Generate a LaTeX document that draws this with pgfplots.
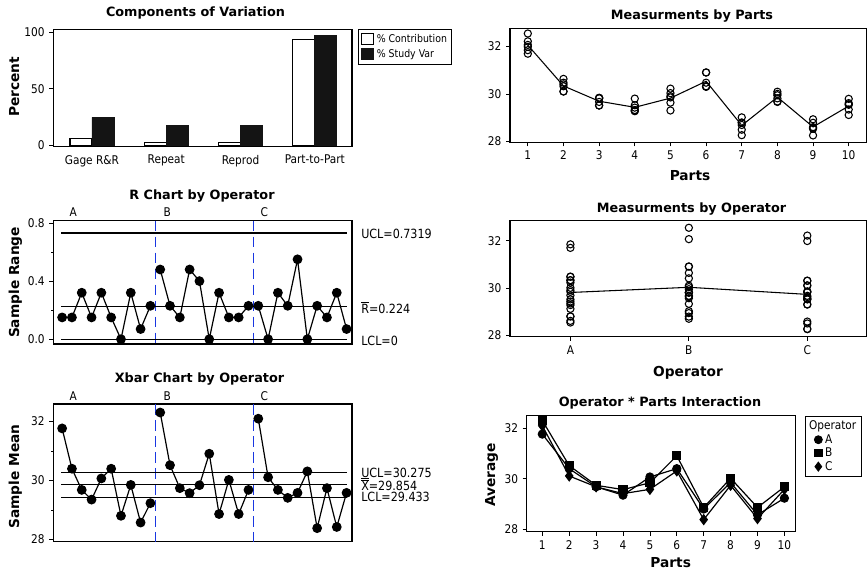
\documentclass[border=0pt]{standalone}
\usepackage{pgfplots}
\pgfplotsset{compat=1.18}
\usepackage{pgfplotstable}
\usepackage{fontspec}
\setmainfont{DejaVu Sans}[FakeStretch=0.88]
\newfontfamily\tfont{DejaVu Sans}
\definecolor{mblue}{RGB}{25,55,225}
\newcommand{\Rbar}{\vbox{\hrule height 0.5pt\kern 0.9pt\hbox{R}}}
\newcommand{\Xbb}{\vbox{\hrule height 0.5pt\kern 0.9pt\hrule height 0.5pt\kern 0.9pt\hbox{X}}}
\newcommand{\ttl}{\tfont\bfseries\fontsize{9.6}{11}\selectfont}
\newcommand{\lbl}{\tfont\bfseries\fontsize{10.3}{12}\selectfont}

\pgfplotstableread{
x xbar r
1 31.77 0.15
2 30.40 0.15
3 29.68 0.32
4 29.35 0.15
5 30.07 0.32
6 30.40 0.15
7 28.80 0.00
8 29.85 0.32
9 28.57 0.07
10 29.23 0.23
10.5 nan nan
11 32.31 0.48
12 30.52 0.23
13 29.74 0.15
14 29.57 0.48
15 29.84 0.40
16 30.91 0.00
17 28.86 0.32
18 30.02 0.15
19 28.86 0.15
20 29.68 0.23
20.5 nan nan
21 32.10 0.23
22 30.11 0.00
23 29.68 0.32
24 29.41 0.23
25 29.58 0.55
26 30.31 0.00
27 28.38 0.23
28 29.74 0.15
29 28.42 0.32
30 29.58 0.07
}\subgroups

\pgfplotstableread{
part A B C
1 31.77 32.31 32.10
2 30.40 30.52 30.11
3 29.68 29.74 29.68
4 29.35 29.57 29.41
5 30.07 29.84 29.58
6 30.40 30.91 30.31
7 28.80 28.86 28.38
8 29.85 30.02 29.74
9 28.57 28.86 28.42
10 29.23 29.68 29.58
}\interact

\pgfplotstableread{
part op val
1 0 31.70
1 0 31.85
2 0 30.33
2 0 30.48
3 0 29.52
3 0 29.84
4 0 29.28
4 0 29.43
5 0 29.91
5 0 30.23
6 0 30.33
6 0 30.48
7 0 28.80
7 0 28.80
8 0 29.69
8 0 30.01
9 0 28.54
9 0 28.61
10 0 29.12
10 0 29.35
1 1 32.07
1 1 32.55
2 1 30.41
2 1 30.64
3 1 29.67
3 1 29.82
4 1 29.33
4 1 29.81
5 1 29.64
5 1 30.04
6 1 30.91
6 1 30.91
7 1 28.70
7 1 29.02
8 1 29.95
8 1 30.10
9 1 28.79
9 1 28.94
10 1 29.57
10 1 29.80
1 2 31.99
1 2 32.22
2 2 30.11
2 2 30.11
3 2 29.52
3 2 29.84
4 2 29.30
4 2 29.53
5 2 29.31
5 2 29.86
6 2 30.31
6 2 30.31
7 2 28.27
7 2 28.50
8 2 29.67
8 2 29.82
9 2 28.26
9 2 28.58
10 2 29.55
10 2 29.62
}\meas

\pgfplotsset{
  mstyle/.style={
    scale only axis, anchor=south west, clip=false,
    axis line style={line width=1pt, black},
    tick style={black, line width=0.6pt},
    tick align=outside, tick pos=left,
    major tick length=3pt, minor tick length=1.6pt,
    tick label style={font=\fontsize{9}{10}\selectfont},
    /pgf/number format/assume math mode=true,
  },
  sqlegend/.style={legend image code/.code={\draw[##1, line width=0.6pt] (0pt,-3.6pt) rectangle (9.5pt,4.2pt);}},
  vdash/.style={color=mblue, draw=mblue, line width=1.4pt, dash pattern=on 8pt off 4pt},
  cline/.style={draw=black, line width=0.9pt},
}

\begin{document}
\begin{tikzpicture}[x=0.75pt,y=0.75pt]
\useasboundingbox (0,0) rectangle (868,569);

% ---------- Components of Variation
\begin{axis}[mstyle, at={(39.975pt,316.875pt)}, width=224pt, height=87.9pt,
  ybar=0pt, bar width=0.296,
  xmin=-0.52, xmax=3.5, ymin=-1.06, ymax=102.65,
  xtick={0,1,2,3}, xticklabels={Gage R\&R, Repeat, Reprod, Part-to-Part},
  ytick={0,50,100}, xtick style={draw=none},
  legend style={at={(1.021,1)}, anchor=north west, draw=black, line width=0.6pt,
    font=\fontsize{8}{9.5}\selectfont, inner sep=1.5pt, row sep=-0.5pt},
  legend cell align=left]
\addplot[fill=white, draw=black, line width=0.9pt, sqlegend]
  coordinates {(0,6.1) (1,2.2) (2,2.2) (3,93.9)};
\addplot[fill=black!92, draw=black!92, line width=0.5pt, sqlegend]
  coordinates {(0,24.8) (1,17.6) (2,17.6) (3,96.9)};
\legend{\% Contribution, \% Study Var}
\end{axis}

% ---------- R chart
\begin{axis}[mstyle, at={(39.975pt,168.75pt)}, width=224pt, height=92.6pt,
  xmin=0.1, xmax=30.55, ymin=-0.033, ymax=0.817, xtick=\empty,
  ytick={0,0.4,0.8}, yticklabels={0.0,0.4,0.8}, minor ytick={0.2,0.6},
  unbounded coords=jump]
\addplot[vdash] coordinates {(10.518,0.817) (10.518,-0.033)};
\addplot[vdash] coordinates {(20.509,0.817) (20.509,-0.033)};
\addplot[cline] coordinates {(0.9,0.7319) (30,0.7319)};
\addplot[cline] coordinates {(0.9,0.224) (30,0.224)};
\addplot[cline] coordinates {(0.9,0) (30,0)};
\addplot[black, line width=0.9pt, mark=*, mark size=3.2pt] table[x=x,y=r]{\subgroups};
\end{axis}

% ---------- Xbar chart
\begin{axis}[mstyle, at={(39.975pt,20.475pt)}, width=224pt, height=103.3pt,
  xmin=0.1, xmax=30.55, ymin=27.92, ymax=32.6, xtick=\empty,
  ytick={28,30,32}, minor ytick={29,31},
  unbounded coords=jump]
\addplot[vdash] coordinates {(10.518,32.6) (10.518,27.92)};
\addplot[vdash] coordinates {(20.509,32.6) (20.509,27.92)};
\addplot[cline] coordinates {(0.9,30.275) (30,30.275)};
\addplot[cline] coordinates {(0.9,29.854) (30,29.854)};
\addplot[cline] coordinates {(0.9,29.433) (30,29.433)};
\addplot[black, line width=0.9pt, mark=*, mark size=3.2pt] table[x=x,y=xbar]{\subgroups};
\end{axis}

% ---------- Measurements by Parts
\begin{axis}[mstyle, at={(382.5pt,320.025pt)}, width=267.4pt, height=85.5pt,
  xmin=0.5, xmax=10.5, ymin=27.97, ymax=32.77,
  xtick={1,2,3,4,5,6,7,8,9,10}, ytick={28,30,32}]
\addplot[only marks, mark=o, mark size=2.7pt, black, line width=0.8pt] table[x=part,y=val]{\meas};
\addplot[black, line width=0.8pt] coordinates {(1,32.06) (2,30.343) (3,29.70) (4,29.443) (5,29.83) (6,30.54) (7,28.68) (8,29.87) (9,28.617) (10,29.497)};
\end{axis}

% ---------- Measurements by Operator
\begin{axis}[mstyle, at={(382.5pt,174.225pt)}, width=267.4pt, height=87pt,
  xmin=-0.51, xmax=2.5, ymin=27.94, ymax=32.85,
  xtick={0,1,2}, xticklabels={A,B,C}, ytick={28,30,32}]
\addplot[only marks, mark=o, mark size=2.7pt, black, line width=0.8pt] table[x=op,y=val]{\meas};
\addplot[black, line width=0.8pt] coordinates {(0,29.812) (1,30.031) (2,29.731)};
\end{axis}

% ---------- Interaction
\begin{axis}[mstyle, at={(395.025pt,27.975pt)}, width=201.75pt, height=87pt,
  xmin=0.42, xmax=10.42, ymin=27.9, ymax=32.5,
  xtick={1,2,3,4,5,6,7,8,9,10}, ytick={28,30,32},
  legend style={at={(1.033,1)}, anchor=north west, draw=black, line width=0.6pt,
    font=\fontsize{9}{10}\selectfont, inner sep=1.5pt, row sep=-2pt},
  legend cell align=left]
\addplot[black, line width=0.9pt, mark=*, mark size=3pt, forget plot] table[x=part,y=A]{\interact};
\addplot[black, line width=0.9pt, mark=square*, mark size=3pt, forget plot] table[x=part,y=B]{\interact};
\addplot[black, line width=0.9pt, mark=diamond*, mark size=3.6pt, forget plot] table[x=part,y=C]{\interact};
\addlegendimage{empty legend}\addlegendentry{\hspace{-12pt}Operator\hspace{8pt}}
\addlegendimage{only marks, black, mark=*, mark size=3pt}\addlegendentry{A}
\addlegendimage{only marks, black, mark=square*, mark size=2.8pt}\addlegendentry{B}
\addlegendimage{only marks, black, mark=diamond*, mark size=3.4pt}\addlegendentry{C}
\end{axis}

% ---------- titles
\node[anchor=base] at (195.5,552.3) {\ttl Components of Variation};
\node[anchor=base] at (202,370) {\ttl R Chart by Operator};
\node[anchor=base] at (199.5,186.7) {\ttl Xbar Chart by Operator};
\node[anchor=base] at (692,549) {\ttl Measurments by Parts};
\node[anchor=base] at (691.5,356.3) {\ttl Measurments by Operator};
\node[anchor=base] at (660,163) {\ttl Operator * Parts Interaction};

% ---------- axis labels
\node[anchor=base, rotate=90] at (19,482.3) {\lbl Percent};
\node[anchor=base, rotate=90] at (19,286.5) {\lbl Sample Range};
\node[anchor=base, rotate=90] at (19,92.3) {\lbl Sample Mean};
\node[anchor=base, rotate=90] at (495,94) {\lbl Average};
\node[anchor=base] at (690,388.3) {\lbl Parts};
\node[anchor=base] at (688,193) {\lbl Operator};
\node[anchor=base] at (670.7,1.7) {\lbl Parts};

% ---------- operator letters
\begin{scope}[every node/.style={anchor=base, font=\fontsize{9}{10}\selectfont}]
\node at (73.3,352.3) {A};
\node at (167.3,352.3) {B};
\node at (264.3,352.3) {C};
\node at (73.3,168.3) {A};
\node at (167.3,168.3) {B};
\node at (264.3,168.3) {C};
\end{scope}

% ---------- control limit labels
\begin{scope}[every node/.style={anchor=base west, inner sep=0pt, font=\fontsize{9.5}{11}\selectfont}]
\node at (361,330.7) {UCL=0.7319};
\node at (361,255.7) {\Rbar=0.224};
\node at (361,224) {LCL=0};
\node at (361,91.7) {UCL=30.275};
\node at (361,78.3) {\Xbb=29.854};
\node at (361,67.3) {LCL=29.433};
\end{scope}
\end{tikzpicture}
\end{document}
